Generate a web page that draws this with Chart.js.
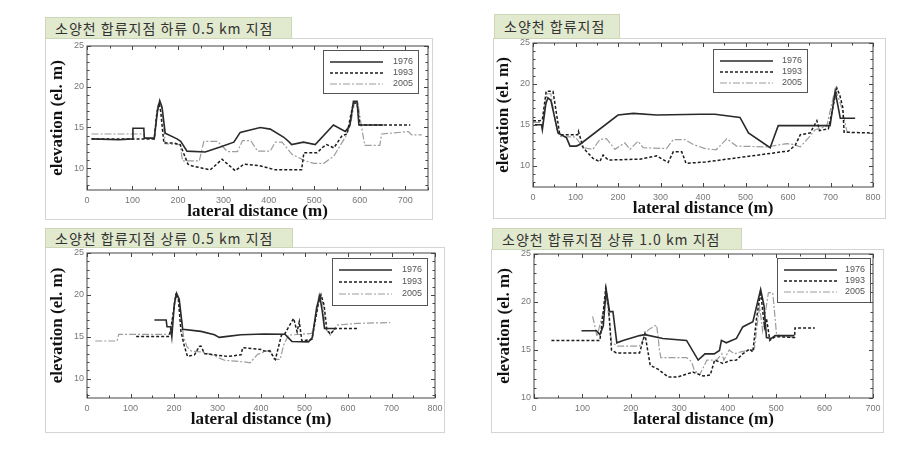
<!DOCTYPE html>
<html>
<head>
<meta charset="utf-8">
<script src="https://cdn.jsdelivr.net/npm/chart.js@4.4.1/dist/chart.umd.min.js"></script>
<style>
  body { margin: 0; background: #fff; width: 923px; height: 450px; position: relative; overflow: hidden; }
  canvas { position: absolute; }
  .frame { position: absolute; border: 1px solid #d4d4d4; box-sizing: border-box; }
  .title { position: absolute; background: #e1e9ce; border: 1px solid #cdd6b6; box-sizing: border-box;
           font-family: "Noto Sans CJK KR", sans-serif; font-size: 14px; letter-spacing: 1px; color: #333;
           padding-left: 9px; white-space: nowrap; }
</style>
</head>
<body>
<div class="frame" style="left:45px;top:38px;width:388px;height:182px"></div>
<div class="frame" style="left:493px;top:38px;width:393px;height:181px"></div>
<div class="frame" style="left:45px;top:247px;width:400px;height:186px"></div>
<div class="frame" style="left:491px;top:249px;width:393px;height:184px"></div>

<div class="title" style="left:45px;top:17px;width:247px;height:22px;line-height:20px">소양천 합류지점 하류 0.5 km 지점</div>
<div class="title" style="left:494px;top:14px;width:126px;height:25px;line-height:23px">소양천 합류지점</div>
<div class="title" style="left:45px;top:228px;width:248px;height:20px;line-height:18px">소양천 합류지점 상류 0.5 km 지점</div>
<div class="title" style="left:492px;top:228px;width:250px;height:22px;line-height:20px">소양천 합류지점 상류 1.0 km 지점</div>

<canvas id="c1"></canvas>
<canvas id="c2"></canvas>
<canvas id="c3"></canvas>
<canvas id="c4"></canvas>

<script>
// survey years
var years = ['1976', '1993', '2005'];

// 하류 0.5 km
var p1x76 = [10, 70, 100, 101, 125, 126, 148, 155, 160, 165, 172, 198, 206, 220, 260, 293, 323, 337, 381, 403, 433, 445, 450, 476, 502, 542, 568, 578, 586, 594, 598, 652];
var p1y76 = [13.6, 13.5, 13.6, 14.9, 14.9, 13.7, 13.7, 17.0, 18.3, 17.5, 14.3, 13.6, 13.3, 12.1, 12.0, 12.6, 13.2, 14.4, 15.0, 14.8, 13.8, 13.2, 12.9, 13.2, 12.9, 15.3, 14.5, 15.2, 18.2, 18.2, 15.3, 15.3];
var p1x93 = [10, 148, 153, 158, 162, 169, 190, 205, 222, 230, 271, 297, 326, 345, 380, 414, 472, 477, 506, 519, 527, 543, 561, 572, 580, 586, 594, 600, 711];
var p1y93 = [13.6, 13.6, 16.5, 18.0, 17.0, 13.1, 13.1, 12.9, 10.5, 10.3, 9.8, 11.1, 9.7, 10.5, 10.3, 9.8, 9.8, 11.9, 11.9, 12.6, 12.9, 12.5, 14.0, 14.2, 16.5, 18.0, 18.0, 15.3, 15.3];
var p1x05 = [10, 125, 127, 148, 155, 160, 166, 172, 205, 210, 247, 257, 287, 309, 331, 342, 360, 375, 403, 414, 429, 451, 480, 499, 521, 543, 569, 580, 588, 596, 603, 611, 644, 648, 707, 714, 736];
var p1y05 = [14.2, 14.2, 13.7, 13.7, 17.5, 18.2, 17.0, 13.0, 12.9, 10.9, 10.9, 13.3, 13.3, 12.05, 12.05, 13.4, 13.4, 12.1, 12.1, 13.2, 13.2, 11.7, 10.9, 10.6, 10.6, 11.5, 13.9, 15.5, 18.0, 18.0, 15.3, 12.8, 12.8, 14.2, 14.5, 14.1, 14.1];

// 합류지점
var p2x76 = [4, 20, 22, 30, 35, 42, 59, 79, 87, 102, 110, 200, 236, 291, 393, 428, 487, 507, 558, 577, 699, 711, 723, 758];
var p2y76 = [15.0, 15.0, 14.4, 17.5, 18.3, 18.0, 14.0, 13.4, 12.4, 12.4, 12.6, 16.2, 16.4, 16.2, 16.3, 16.3, 15.9, 14.0, 12.2, 14.9, 14.9, 19.1, 15.8, 15.8];
var p2x93 = [0, 16, 22, 31, 47, 63, 105, 107, 118, 141, 157, 165, 177, 251, 291, 318, 330, 350, 360, 405, 601, 617, 629, 652, 668, 674, 695, 715, 722, 729, 732, 800];
var p2y93 = [15.5, 15.5, 15.6, 19.1, 19.1, 13.8, 13.8, 14.2, 12.2, 10.9, 10.5, 11.3, 10.7, 10.8, 11.2, 10.4, 11.7, 11.7, 10.3, 10.45, 11.8, 12.5, 13.8, 14.0, 15.5, 14.3, 14.5, 19.5, 18.6, 17.1, 14.1, 14.0];
var p2x05 = [0, 16, 22, 33, 42, 55, 63, 100, 118, 141, 157, 173, 193, 216, 228, 247, 259, 314, 330, 357, 377, 405, 431, 456, 479, 550, 597, 612, 629, 648, 664, 691, 707, 712, 727, 739, 750];
var p2y05 = [15.3, 15.3, 15.2, 18.8, 18.8, 14.5, 13.6, 13.5, 12.2, 12.0, 13.2, 13.3, 12.0, 12.8, 12.0, 13.0, 12.2, 12.1, 13.2, 13.2, 12.6, 12.1, 11.95, 13.3, 12.4, 12.3, 12.7, 12.6, 12.3, 13.4, 14.4, 14.8, 18.5, 19.3, 17.0, 14.1, 14.0];

// 상류 0.5 km
var p3x76 = [155, 182, 184, 192, 195, 201, 206, 212, 220, 262, 293, 304, 323, 354, 407, 455, 471, 509, 518, 528, 535, 541, 546, 571];
var p3y76 = [17.0, 17.0, 16.2, 16.2, 15.0, 19.0, 20.2, 19.5, 15.9, 15.65, 15.25, 14.93, 15.05, 15.25, 15.33, 15.3, 14.45, 14.4, 14.9, 18.5, 19.9, 18.0, 16.0, 16.0];
var p3x93 = [113, 189, 196, 204, 210, 216, 224, 231, 247, 258, 262, 270, 293, 323, 354, 358, 380, 400, 407, 420, 433, 447, 454, 475, 483, 488, 494, 517, 532, 538, 545, 551, 559, 571, 624];
var p3y93 = [15.05, 15.05, 17.0, 20.0, 19.5, 15.65, 13.85, 12.66, 12.85, 13.85, 13.9, 13.0, 12.85, 12.66, 12.85, 13.7, 13.6, 13.5, 13.3, 13.3, 12.3, 15.2, 15.3, 17.2, 15.6, 16.8, 14.5, 14.7, 19.0, 20.0, 18.8, 16.0, 15.3, 16.0, 16.0];
var p3x05 = [19, 69, 73, 191, 197, 205, 211, 222, 230, 240, 262, 285, 316, 340, 362, 375, 392, 407, 421, 430, 444, 452, 463, 517, 527, 533, 540, 548, 559, 575, 620, 697];
var p3y05 = [14.5, 14.5, 15.3, 15.3, 17.5, 20.0, 19.5, 15.0, 13.8, 13.3, 13.2, 12.9, 12.2, 12.1, 12.0, 11.9, 12.9, 13.2, 13.4, 12.3, 12.3, 14.0, 15.2, 15.4, 17.5, 20.0, 19.8, 16.0, 15.2, 16.4, 16.6, 16.7];

// 상류 1.0 km
var p4x76 = [98, 129, 136, 143, 149, 156, 163, 171, 184, 218, 229, 266, 315, 339, 353, 372, 383, 387, 397, 418, 431, 452, 468, 475, 480, 490, 498, 538];
var p4y76 = [17.0, 17.0, 16.6, 17.5, 21.3, 19.0, 19.0, 15.75, 16.0, 16.5, 16.6, 16.2, 16.0, 13.95, 14.6, 14.6, 14.95, 16.0, 15.75, 16.2, 17.4, 17.95, 21.3, 19.6, 16.3, 16.2, 16.5, 16.5];
var p4x93 = [36, 136, 142, 148, 154, 160, 170, 218, 229, 240, 256, 277, 297, 328, 349, 364, 373, 390, 405, 418, 431, 445, 452, 459, 468, 472, 476, 480, 487, 498, 538, 539, 580];
var p4y93 = [16.0, 16.0, 18.5, 21.4, 19.5, 15.0, 14.7, 14.7, 16.7, 13.4, 13.0, 12.2, 12.2, 12.7, 12.3, 12.4, 13.95, 13.6, 13.9, 13.95, 14.6, 15.1, 14.8, 18.1, 21.1, 19.2, 17.4, 18.3, 16.0, 16.4, 16.3, 17.3, 17.3];
var p4x05 = [121, 126, 130, 143, 149, 155, 160, 173, 218, 236, 253, 256, 259, 262, 315, 325, 331, 342, 357, 377, 388, 392, 403, 413, 427, 445, 455, 462, 466, 472, 484, 493, 501, 538];
var p4y05 = [18.5, 17.4, 16.4, 19.0, 20.7, 18.3, 15.8, 15.4, 15.4, 17.1, 17.6, 16.5, 15.0, 14.2, 14.2, 13.8, 12.9, 12.4, 13.95, 13.95, 14.6, 13.95, 15.0, 14.6, 14.8, 15.0, 15.1, 18.1, 19.5, 17.0, 20.97, 20.97, 16.55, 16.3];

var lineStyles = [
    { borderColor: '#2a2a2a', borderWidth: 1.6, borderDash: [] },
    { borderColor: '#1c1c1c', borderWidth: 1.5, borderDash: [3, 2] },
    { borderColor: '#9c9c9c', borderWidth: 1.2, borderDash: [7, 2, 2, 2] }
];

function pts(xs, ys) {
    return xs.map(function (x, i) { return { x: x, y: ys[i] }; });
}

// frame, inward tick marks and the boxed legend
var framePlugin = {
    id: 'frame',
    afterDatasetsDraw: function (chart, args, opts) {
        var ctx = chart.ctx, a = chart.chartArea, sx = chart.scales.x, sy = chart.scales.y;
        ctx.save();
        ctx.strokeStyle = '#454545';
        ctx.lineWidth = 1;
        ctx.setLineDash([]);
        ctx.strokeRect(a.left, a.top, a.right - a.left, a.bottom - a.top);
        ctx.beginPath();
        sx.ticks.forEach(function (t) {
            var px = Math.round(sx.getPixelForValue(t.value)) + 0.5;
            var len = t.value % 100 === 0 ? 4 : 2.5;
            ctx.moveTo(px, a.bottom); ctx.lineTo(px, a.bottom - len);
            ctx.moveTo(px, a.top); ctx.lineTo(px, a.top + len);
        });
        sy.ticks.forEach(function (t) {
            var py = Math.round(sy.getPixelForValue(t.value)) + 0.5;
            var len = t.value % 5 === 0 ? 4 : 2.5;
            ctx.moveTo(a.left, py); ctx.lineTo(a.left + len, py);
            ctx.moveTo(a.right, py); ctx.lineTo(a.right - len, py);
        });
        ctx.stroke();

        // legend
        var w = opts.w, h = opts.h;
        var bx = a.right - opts.right - w, by = a.top + opts.top;
        ctx.fillStyle = '#fff';
        ctx.fillRect(bx, by, w, h);
        ctx.strokeStyle = '#555';
        ctx.strokeRect(bx + 0.5, by + 0.5, w, h);
        ctx.font = '9px "Liberation Sans", Arial, sans-serif';
        ctx.textAlign = 'right';
        ctx.textBaseline = 'middle';
        chart.data.datasets.forEach(function (ds, i) {
            var ry = by + opts.rows[i];
            ctx.beginPath();
            ctx.strokeStyle = ds.borderColor;
            ctx.lineWidth = ds.borderWidth;
            ctx.setLineDash(ds.borderDash);
            ctx.moveTo(bx + 7, ry);
            ctx.lineTo(bx + 60, ry);
            ctx.stroke();
            ctx.fillStyle = '#555';
            ctx.fillText(ds.label, bx + w - 5, ry);
        });
        ctx.restore();
    }
};

function panel(id, box, xMax, yMin, series, legend) {
    var padL = 48, padT = 10, padR = 14, padB = 36;
    var cv = document.getElementById(id);
    cv.width = box.r - box.l + padL + padR;
    cv.height = box.b - box.t + padT + padB;
    cv.style.left = (box.l - padL) + 'px';
    cv.style.top = (box.t - padT) + 'px';

    var tickFont = { family: '"Liberation Sans", Arial, sans-serif', size: 9 };
    var titleFont = { family: '"Liberation Serif", "Times New Roman", serif', size: 17, weight: 'bold' };

    new Chart(cv.getContext('2d'), {
        type: 'scatter',
        data: {
            datasets: series.map(function (s, i) {
                return Object.assign({
                    label: years[i],
                    data: pts(s[0], s[1]),
                    showLine: true,
                    pointRadius: 0,
                    fill: false,
                    tension: 0
                }, lineStyles[i]);
            })
        },
        options: {
            responsive: false,
            animation: false,
            layout: { padding: { top: padT, right: padR, left: 0, bottom: 0 } },
            plugins: {
                legend: { display: false },
                tooltip: { enabled: false },
                frame: legend
            },
            scales: {
                x: {
                    type: 'linear',
                    min: 0, max: xMax,
                    grid: { display: false, drawTicks: false },
                    border: { display: false },
                    afterBuildTicks: function (s) {
                        var t = [];
                        for (var v = 0; v <= xMax; v += 50) t.push({ value: v });
                        s.ticks = t;
                    },
                    afterFit: function (s) { s.height = padB; },
                    ticks: {
                        autoSkip: false, maxRotation: 0, padding: 5, color: '#777', font: tickFont,
                        callback: function (v) { return v % 100 === 0 ? v : ''; }
                    },
                    title: { display: true, text: 'lateral distance (m)', color: '#111', font: titleFont,
                             padding: { top: 0, bottom: 4 } }
                },
                y: {
                    type: 'linear',
                    min: yMin, max: 25,
                    grid: { display: false, drawTicks: false },
                    border: { display: false },
                    afterBuildTicks: function (s) {
                        var t = [];
                        for (var v = Math.ceil(yMin); v <= 25; v++) t.push({ value: v });
                        s.ticks = t;
                    },
                    afterFit: function (s) { s.width = padL; },
                    ticks: {
                        autoSkip: false, padding: 3, color: '#777', font: tickFont,
                        callback: function (v) { return v % 5 === 0 ? v : ''; }
                    },
                    title: { display: true, text: 'elevation (el. m)', color: '#111', font: titleFont,
                             padding: { top: 8, bottom: 0 } }
                }
            }
        },
        plugins: [framePlugin]
    });
}

panel('c1', { l: 87, t: 46, r: 428, b: 190 }, 750, 7.33,
    [[p1x76, p1y76], [p1x93, p1y93], [p1x05, p1y05]],
    { right: 10, top: 4, w: 95, h: 43, rows: [12, 23, 34] });
panel('c2', { l: 533, t: 43, r: 873, b: 187 }, 800, 7.4,
    [[p2x76, p2y76], [p2x93, p2y93], [p2x05, p2y05]],
    { right: 66, top: 6, w: 94, h: 43, rows: [12, 23, 34] });
panel('c3', { l: 87, t: 253, r: 435, b: 398 }, 800, 7.7,
    [[p3x76, p3y76], [p3x93, p3y93], [p3x05, p3y05]],
    { right: 8, top: 5, w: 95, h: 47, rows: [12, 24, 36] });
panel('c4', { l: 534, t: 254, r: 873, b: 398 }, 700, 10,
    [[p4x76, p4y76], [p4x93, p4y93], [p4x05, p4y05]],
    { right: 3, top: 4, w: 93, h: 44, rows: [12, 23, 34] });
</script>
</body>
</html>
